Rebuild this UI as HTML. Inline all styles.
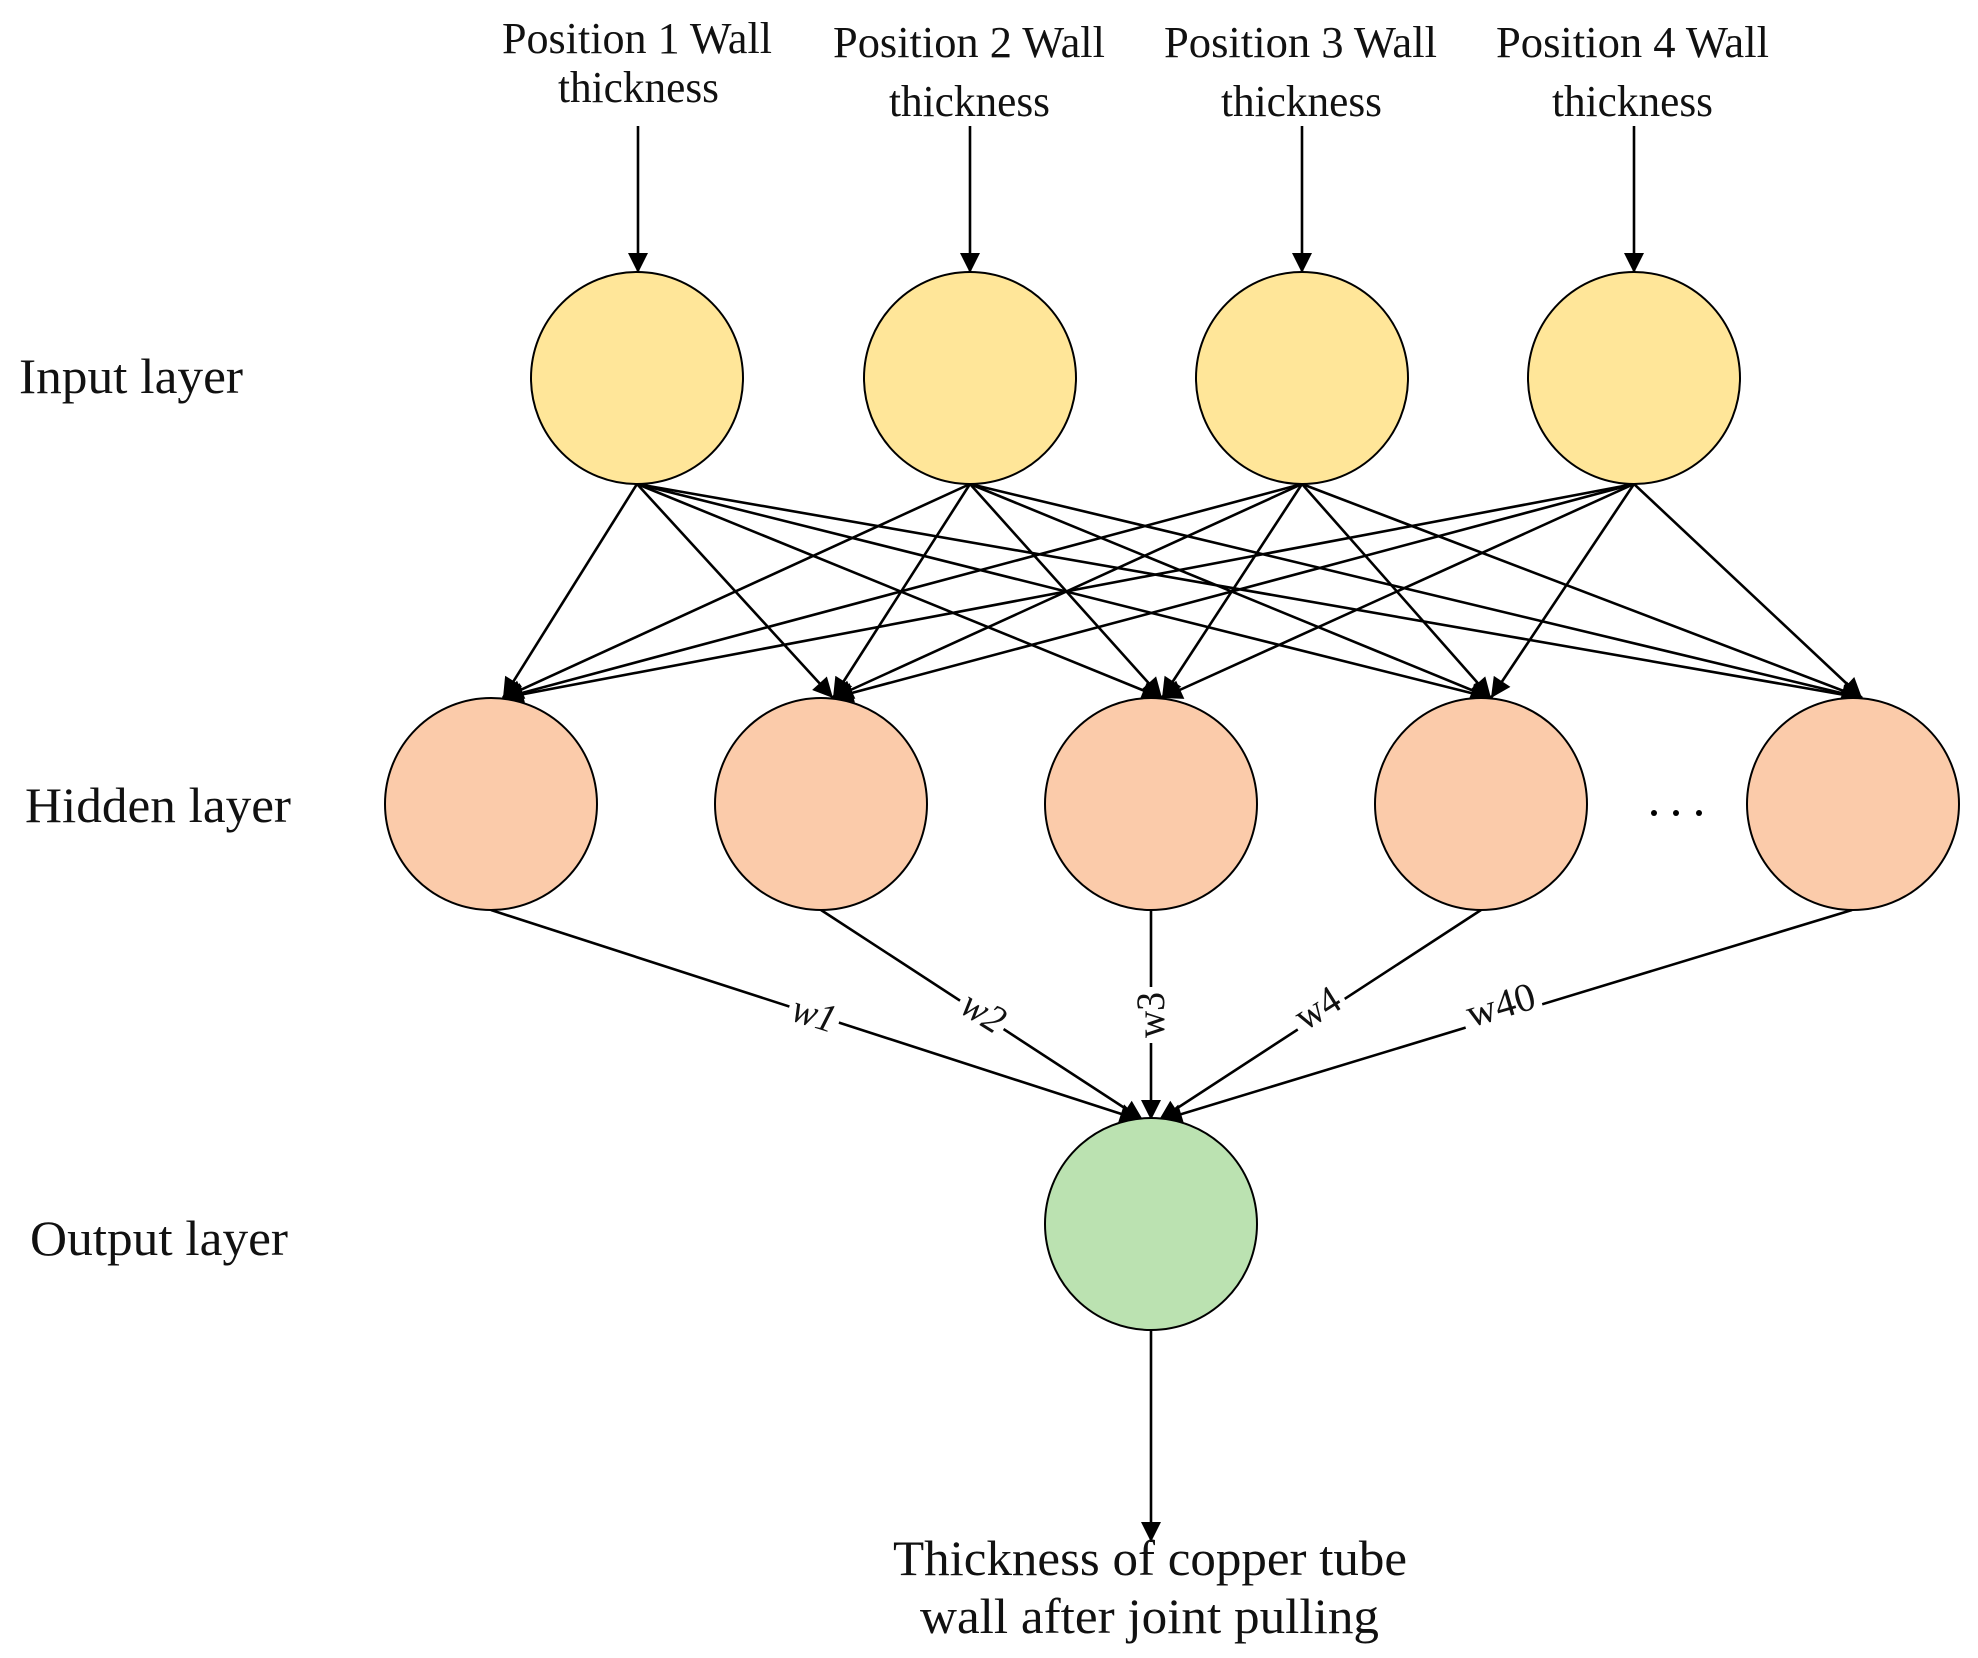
<!DOCTYPE html>
<html><head><meta charset="utf-8"><style>
html,body{margin:0;padding:0;background:#fff;}
svg{display:block;}
text{font-family:"Liberation Serif",serif;fill:#111;}
</style></head><body>
<svg width="1978" height="1658" viewBox="0 0 1978 1658" xmlns="http://www.w3.org/2000/svg">
<defs>
<marker id="a" viewBox="0 0 10 10" refX="10" refY="5" markerWidth="22" markerHeight="20" markerUnits="userSpaceOnUse" orient="auto">
<path d="M0,0 L10,5 L0,10 z" fill="#000"/>
</marker>
</defs>
<g stroke="#000" stroke-width="2.6" fill="none">
<line x1="638" y1="126" x2="638" y2="273" marker-end="url(#a)"/>
<line x1="970" y1="126" x2="970" y2="273" marker-end="url(#a)"/>
<line x1="1302" y1="126" x2="1302" y2="273" marker-end="url(#a)"/>
<line x1="1634" y1="126" x2="1634" y2="273" marker-end="url(#a)"/>
<g marker-end="url(#a)">
<line x1="637" y1="484" x2="503" y2="698"/><line x1="637" y1="484" x2="833" y2="698"/><line x1="637" y1="484" x2="1162" y2="698"/><line x1="637" y1="484" x2="1491" y2="698"/><line x1="637" y1="484" x2="1862" y2="698"/>
<line x1="970" y1="484" x2="503" y2="698"/><line x1="970" y1="484" x2="833" y2="698"/><line x1="970" y1="484" x2="1162" y2="698"/><line x1="970" y1="484" x2="1491" y2="698"/><line x1="970" y1="484" x2="1862" y2="698"/>
<line x1="1302" y1="484" x2="503" y2="698"/><line x1="1302" y1="484" x2="833" y2="698"/><line x1="1302" y1="484" x2="1162" y2="698"/><line x1="1302" y1="484" x2="1491" y2="698"/><line x1="1302" y1="484" x2="1862" y2="698"/>
<line x1="1634" y1="484" x2="503" y2="698"/><line x1="1634" y1="484" x2="833" y2="698"/><line x1="1634" y1="484" x2="1162" y2="698"/><line x1="1634" y1="484" x2="1491" y2="698"/><line x1="1634" y1="484" x2="1862" y2="698"/>
</g>
<g marker-end="url(#a)">
<line x1="491" y1="910" x2="1140" y2="1120"/>
<line x1="821" y1="910" x2="1143" y2="1120"/>
<line x1="1151" y1="910" x2="1151" y2="1120"/>
<line x1="1481" y1="910" x2="1159" y2="1120"/>
<line x1="1852" y1="910" x2="1162" y2="1120"/>
</g>
<line x1="1151" y1="1330" x2="1151" y2="1542" marker-end="url(#a)"/>
</g>
<g stroke="#000" stroke-width="2">
<circle cx="637" cy="378" r="106" fill="#FFE699"/>
<circle cx="970" cy="378" r="106" fill="#FFE699"/>
<circle cx="1302" cy="378" r="106" fill="#FFE699"/>
<circle cx="1634" cy="378" r="106" fill="#FFE699"/>
<circle cx="491" cy="804" r="106" fill="#FBCBAA"/>
<circle cx="821" cy="804" r="106" fill="#FBCBAA"/>
<circle cx="1151" cy="804" r="106" fill="#FBCBAA"/>
<circle cx="1481" cy="804" r="106" fill="#FBCBAA"/>
<circle cx="1853" cy="804" r="106" fill="#FBCBAA"/>
<circle cx="1151" cy="1224" r="106" fill="#BBE2B1"/>
</g>
<circle cx="1654" cy="813" r="3" fill="#000"/><circle cx="1676" cy="813" r="3" fill="#000"/><circle cx="1699" cy="813" r="3" fill="#000"/>
<g font-size="40">
<g transform="translate(814,1015) rotate(17.5)"><rect x="-26" y="-20" width="52" height="38" fill="#fff"/><text x="0" y="12" text-anchor="middle" style="font-style:italic" textLength="44" lengthAdjust="spacingAndGlyphs">w1</text></g>
<g transform="translate(983,1013) rotate(32)"><rect x="-26" y="-20" width="52" height="38" fill="#fff"/><text x="0" y="12" text-anchor="middle" style="font-style:italic" textLength="44" lengthAdjust="spacingAndGlyphs">w2</text></g>
<g transform="translate(1152,1015) rotate(-90)"><rect x="-28" y="-17" width="56" height="34" fill="#fff"/><text x="0" y="12" text-anchor="middle" textLength="46" lengthAdjust="spacingAndGlyphs">w3</text></g>
<g transform="translate(1318,1009) rotate(-32)"><rect x="-28" y="-20" width="56" height="38" fill="#fff"/><text x="0" y="12" text-anchor="middle" textLength="46" lengthAdjust="spacingAndGlyphs">w4</text></g>
<g transform="translate(1501,1006) rotate(-16.5)"><rect x="-40" y="-20" width="80" height="38" fill="#fff"/><text x="0" y="12" text-anchor="middle" textLength="70" lengthAdjust="spacingAndGlyphs">w40</text></g>
</g>
<g font-size="44">
<text x="502" y="53" textLength="270" lengthAdjust="spacingAndGlyphs">Position 1 Wall</text>
<text x="558" y="102" textLength="161" lengthAdjust="spacingAndGlyphs">thickness</text>
<text x="833" y="57" textLength="272" lengthAdjust="spacingAndGlyphs">Position 2 Wall</text>
<text x="889" y="116" textLength="161" lengthAdjust="spacingAndGlyphs">thickness</text>
<text x="1164" y="57" textLength="273" lengthAdjust="spacingAndGlyphs">Position 3 Wall</text>
<text x="1221" y="116" textLength="161" lengthAdjust="spacingAndGlyphs">thickness</text>
<text x="1496" y="57" textLength="273" lengthAdjust="spacingAndGlyphs">Position 4 Wall</text>
<text x="1552" y="116" textLength="161" lengthAdjust="spacingAndGlyphs">thickness</text>
</g>
<g font-size="50">
<text x="19" y="393" textLength="224" lengthAdjust="spacingAndGlyphs">Input layer</text>
<text x="25" y="822" textLength="266" lengthAdjust="spacingAndGlyphs">Hidden layer</text>
<text x="30" y="1255" textLength="258" lengthAdjust="spacingAndGlyphs">Output layer</text>
<text x="893" y="1575" textLength="514" lengthAdjust="spacingAndGlyphs">Thickness of copper tube</text>
<text x="920" y="1633" textLength="459" lengthAdjust="spacingAndGlyphs">wall after joint pulling</text>
</g>
</svg>
</body></html>
